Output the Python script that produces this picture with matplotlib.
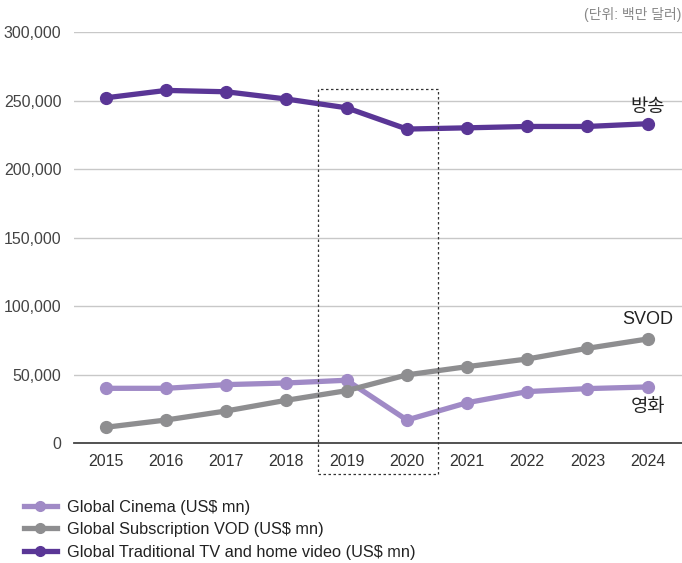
import matplotlib
matplotlib.use("Agg")
import matplotlib.pyplot as plt
from matplotlib.patches import Rectangle
from matplotlib.ticker import FuncFormatter

plt.rcParams['font.family'] = ['Liberation Sans', 'Noto Sans CJK KR', 'DejaVu Sans']

years = [2015, 2016, 2017, 2018, 2019, 2020, 2021, 2022, 2023, 2024]
cinema = [40100, 40100, 42800, 44000, 46000, 17000, 29600, 37700, 39900, 41100]
svod = [11700, 17000, 23600, 31400, 38400, 49900, 55900, 61500, 69300, 76100]
tv = [252000, 257400, 256400, 251100, 244700, 229200, 230100, 231100, 231100, 233100]

series_names = ["Global Cinema (US$ mn)",
                "Global Subscription VOD (US$ mn)",
                "Global Traditional TV and home video (US$ mn)"]
series_colors = ["#a08ac6", "#8e8e90", "#5a3696"]
end_labels = ["영화", "SVOD", "방송"]
y_ticks = [0, 50000, 100000, 150000, 200000, 250000, 300000]

fig = plt.figure(figsize=(6.82, 5.63), dpi=100)
ax = fig.add_axes([74 / 682, 1 - 443.3 / 563, (682 - 74) / 682, 411.3 / 563])

ax.set_ylim(0, 300000)
ax.set_xlim(2014.47, 2024.57)
ax.set_yticks(y_ticks)
ax.yaxis.set_major_formatter(FuncFormatter(lambda v, p: f"{int(v):,}"))
ax.set_xticks(years)
ax.grid(axis='y', color='#c8c8c8', linewidth=1.0)
ax.set_axisbelow(True)
for s in ['top', 'right', 'left']:
    ax.spines[s].set_visible(False)
ax.spines['bottom'].set_color('#444444')
ax.spines['bottom'].set_linewidth(1.3)
ax.tick_params(axis='both', length=0, labelsize=11.5, labelcolor='#333333')
ax.tick_params(axis='y', pad=9, labelcolor='#444444')
ax.tick_params(axis='x', pad=8)

handles = []
for vals, name, col in zip([cinema, svod, tv], series_names, series_colors):
    h, = ax.plot(years, vals, color=col, linewidth=3.8, marker='o',
                 markersize=8.5, label=name, clip_on=False, zorder=3)
    handles.append(h)

# highlight box around 2019-2020, extending below the axis
rect = Rectangle((2018.52, -22400), 2.0, 281000, fill=False,
                 linestyle=(0, (2, 2)), linewidth=0.9, edgecolor='#333333',
                 clip_on=False, zorder=4)
ax.add_patch(rect)

# series name labels at the right end
ax.text(years[-1], tv[-1] + 5500, end_labels[2], ha='center', va='bottom',
        fontsize=13.5, color='#222222')
ax.text(years[-1], svod[-1] + 8000, end_labels[1], ha='center', va='bottom',
        fontsize=13, color='#222222')
ax.text(years[-1], cinema[-1] - 8500, end_labels[0], ha='center', va='top',
        fontsize=13.5, color='#222222')

fig.text(681 / 682, 1 - 15 / 563, "(단위: 백만 달러)", ha='right', va='center',
         fontsize=10, color='#888888')

leg = fig.legend(handles=handles, loc='upper left',
                 bbox_to_anchor=(9 / 682, 1 - 485 / 563),
                 frameon=False, fontsize=11.8, handlelength=2.0,
                 handletextpad=0.65, labelspacing=0.45, labelcolor='#222222')
for line in leg.get_lines():
    line.set_markersize(7)
    line.set_linewidth(3.8)

fig.savefig("out.png", dpi=100)
